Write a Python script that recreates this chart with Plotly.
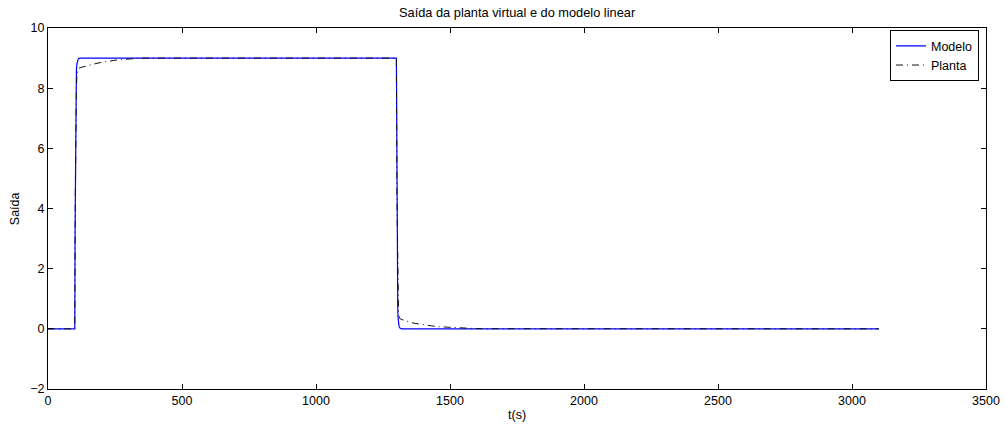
import plotly.graph_objects as go

# Modelo (linear model) response: time (s) and output
t_modelo = [0, 100, 101, 102, 103, 104, 105, 106, 108, 110, 113, 116, 120,
            1300, 1301, 1302, 1303, 1304, 1305, 1306, 1308, 1310, 1313, 1316, 1320, 3100]
y_modelo = [0, 0, 3.2, 5.4, 6.9, 7.8, 8.3, 8.6, 8.82, 8.92, 8.97, 8.99, 9.0,
            9.0, 5.8, 3.6, 2.1, 1.2, 0.7, 0.4, 0.18, 0.08, 0.03, 0.01, 0.0, 0.0]

# Planta (virtual plant) response: time (s) and output
t_planta = [0, 100, 102, 104, 106, 108, 110, 113, 120, 135, 150, 170, 195, 220, 250,
            275, 300, 330, 370, 1300, 1302, 1304, 1306, 1308, 1310, 1313, 1320, 1335,
            1350, 1370, 1400, 1430, 1460, 1500, 1540, 1580, 1620, 3100]
y_planta = [0, 0, 4.5, 7.0, 8.0, 8.45, 8.6, 8.65, 8.68, 8.72, 8.76, 8.8, 8.85, 8.89, 8.93,
            8.95, 8.97, 8.99, 9.0, 9.0, 4.4, 2.0, 1.0, 0.55, 0.4, 0.34, 0.31, 0.26,
            0.22, 0.18, 0.13, 0.1, 0.07, 0.045, 0.028, 0.015, 0.005, 0.0]

x_ticks = [0, 500, 1000, 1500, 2000, 2500, 3000, 3500]
y_ticks = [-2, 0, 2, 4, 6, 8, 10]

font = "Liberation Sans, Arial, sans-serif"
fsize = 12.5
label_font = dict(size=fsize, color="black", family=font)

fig = go.Figure()
fig.add_trace(go.Scatter(x=t_modelo, y=y_modelo, mode="lines", name="Modelo",
                         line=dict(color="#0000ff", width=1.2)))
fig.add_trace(go.Scatter(x=t_planta, y=y_planta, mode="lines", name="Planta",
                         line=dict(color="#111111", width=1.0, dash="7px,4px,1px,4px")))

axis_common = dict(showline=True, linecolor="black", linewidth=1, mirror="ticks",
                   ticks="inside", ticklen=5, tickcolor="black", showgrid=False,
                   zeroline=False, automargin=False, tickfont=label_font)

fig.update_xaxes(range=[0, 3500], tickvals=x_ticks, **axis_common)
fig.update_yaxes(range=[-2, 10], tickvals=y_ticks, **axis_common)

# axis titles
fig.add_annotation(text="t(s)", xref="paper", yref="paper", x=0.5, y=-0.072,
                   xanchor="center", yanchor="middle", showarrow=False, font=label_font)
fig.add_annotation(text="Saída", xref="paper", yref="paper", x=-0.0355, y=0.5,
                   xanchor="center", yanchor="middle", textangle=-90, showarrow=False,
                   font=label_font)

fig.update_layout(
    width=1006, height=425,
    margin=dict(l=48, r=20, t=28, b=36),
    paper_bgcolor="white", plot_bgcolor="white",
    title=dict(text="Saída da planta virtual e do modelo linear", x=0.514, xanchor="center",
               y=0.97, yanchor="middle", font=dict(size=12.8, color="black", family=font)),
    legend=dict(x=0.9925, y=0.994, xanchor="right", yanchor="top",
                bordercolor="black", borderwidth=1, bgcolor="white",
                font=label_font, tracegroupgap=0, itemwidth=30),
    showlegend=True,
)

fig.write_html("out.html")
